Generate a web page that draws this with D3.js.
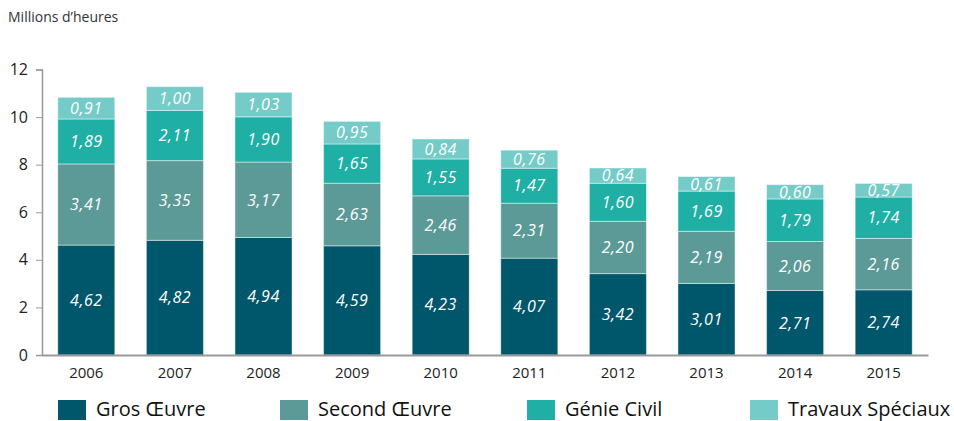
<!DOCTYPE html>
<html>
<head>
<meta charset="utf-8">
<script src="https://cdn.jsdelivr.net/npm/d3@7"></script>
<style>
  html, body { margin: 0; padding: 0; background: #fff; }
  svg { display: block; font-family: "Open Sans", "DejaVu Sans", sans-serif; }
</style>
</head>
<body>
<svg id="chart" width="954" height="421"></svg>
<script>
// Hours worked, in millions, by activity
const years = ["2006", "2007", "2008", "2009", "2010", "2011", "2012", "2013", "2014", "2015"];
const grosOeuvre = [4.62, 4.82, 4.94, 4.59, 4.23, 4.07, 3.42, 3.01, 2.71, 2.74];
const secondOeuvre = [3.41, 3.35, 3.17, 2.63, 2.46, 2.31, 2.20, 2.19, 2.06, 2.16];
const genieCivil = [1.89, 2.11, 1.90, 1.65, 1.55, 1.47, 1.60, 1.69, 1.79, 1.74];
const travauxSpeciaux = [0.91, 1.00, 1.03, 0.95, 0.84, 0.76, 0.64, 0.61, 0.60, 0.57];
const seriesNames = ["Gros Œuvre", "Second Œuvre", "Génie Civil", "Travaux Spéciaux"];
const yTicks = [0, 2, 4, 6, 8, 10, 12];
const colors = ["#00566a", "#5b9a96", "#20afa4", "#74cbc7"];

const seriesValues = [grosOeuvre, secondOeuvre, genieCivil, travauxSpeciaux];
const table = years.map((yr, i) => {
  const row = { year: yr };
  seriesNames.forEach((s, k) => row[s] = seriesValues[k][i]);
  return row;
});
const stacked = d3.stack().keys(seriesNames)(table);

const svg = d3.select("#chart");
const plotLeft = 42, plotRight = 928, plotTop = 69.5, plotBottom = 355;

const x = d3.scaleBand().domain(years).range([plotLeft, plotRight]).paddingInner(0.356).paddingOuter(0.178);
const y = d3.scaleLinear().domain([0, 12]).range([plotBottom, plotTop]);
const fmt = v => d3.format(".2f")(v).replace(".", ",");

// Unit label
svg.append("text")
  .attr("x", 8).attr("y", 22)
  .attr("font-size", 14).attr("fill", "#333")
  .text("Millions d’heures");

// Stacked bars
const layers = svg.append("g").selectAll("g")
  .data(stacked).join("g")
  .attr("fill", (d, i) => colors[i]);

layers.selectAll("rect")
  .data(d => d).join("rect")
  .attr("x", d => x(d.data.year))
  .attr("width", x.bandwidth())
  .attr("y", d => y(d[1]))
  .attr("height", d => y(d[0]) - y(d[1]))
  .attr("stroke", "rgba(255,255,255,0.45)")
  .attr("stroke-width", 1);

// Value labels
layers.each(function(layer) {
  d3.select(this).selectAll("text")
    .data(layer).join("text")
    .attr("x", d => x(d.data.year) + x.bandwidth() / 2)
    .attr("y", d => (y(d[0]) + y(d[1])) / 2)
    .attr("dy", "0.36em")
    .attr("text-anchor", "middle")
    .attr("font-size", 16)
    .attr("font-style", "italic")
    .attr("letter-spacing", 0.5)
    .attr("fill", "#fff")
    .text(d => fmt(d.data[layer.key]));
});

// Y axis
const yAxis = svg.append("g")
  .attr("transform", `translate(${plotLeft},0)`)
  .call(d3.axisLeft(y).tickValues(yTicks).tickSize(6).tickPadding(8).tickFormat(d3.format("d")));
yAxis.select(".domain").attr("stroke", "#999").attr("stroke-width", 1.5);
yAxis.selectAll(".tick line").attr("stroke", "#999");
yAxis.selectAll(".tick text").attr("font-size", 16).attr("fill", "#222")
  .style("font-family", "\"Open Sans\", sans-serif");

// X axis
const xAxis = svg.append("g")
  .attr("transform", `translate(0,${plotBottom})`)
  .call(d3.axisBottom(x).tickSize(0).tickPadding(12));
xAxis.select(".domain").attr("stroke", "#999").attr("stroke-width", 2);
xAxis.selectAll(".tick text").attr("font-size", 15).attr("fill", "#222")
  .style("font-family", "\"Open Sans\", sans-serif");

// Legend
const legendX = [58, 280, 527, 750];
const legend = svg.append("g").selectAll("g")
  .data(seriesNames).join("g")
  .attr("transform", (d, i) => `translate(${legendX[i]},400)`);
legend.append("rect").attr("width", 28).attr("height", 20).attr("fill", (d, i) => colors[i]);
legend.append("text")
  .attr("x", 38).attr("y", 16)
  .attr("font-size", 20).attr("fill", "#111")
  .text(d => d);
</script>
</body>
</html>
